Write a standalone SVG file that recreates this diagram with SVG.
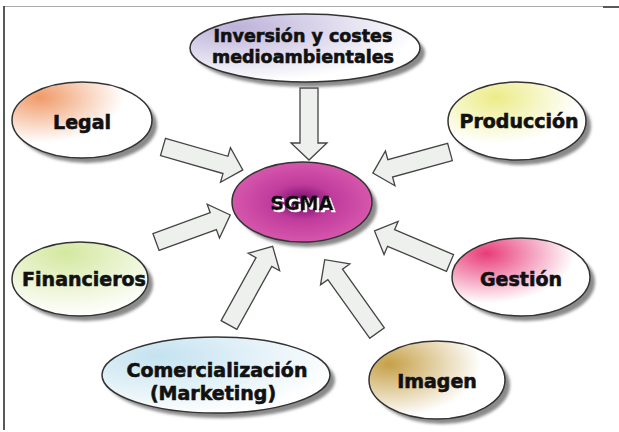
<svg xmlns="http://www.w3.org/2000/svg" width="619" height="432" viewBox="0 0 619 432">
<style>
.node{stroke:#333;stroke-width:1.5}
.sh{fill:#8a8a8a;filter:url(#blur)}
.lbl{font-family:"DejaVu Sans","Liberation Sans",sans-serif;font-weight:bold;font-size:19px;fill:#111;stroke:#111;stroke-width:0.6;text-anchor:middle}
.arr{fill:#eef0ee;stroke:#444;stroke-width:1.3;stroke-linejoin:miter}
</style>
<defs>
<filter id="blur" x="-20%" y="-20%" width="140%" height="140%"><feGaussianBlur stdDeviation="1.5"/></filter>
<filter id="wsh" x="-10%" y="-30%" width="130%" height="160%">
<feOffset in="SourceAlpha" dx="2" dy="2" result="o"/>
<feFlood flood-color="#ffffff"/>
<feComposite in2="o" operator="in" result="w"/>
<feMerge><feMergeNode in="w"/><feMergeNode in="SourceGraphic"/></feMerge>
</filter>
<radialGradient id="gInv" cx="0.2" cy="0.2" r="0.8"><stop offset="0" stop-color="#bcb2da"/><stop offset="1" stop-color="#ffffff"/></radialGradient>
<radialGradient id="gLeg" cx="0.2" cy="0.2" r="0.8"><stop offset="0" stop-color="#f09a68"/><stop offset="0.75" stop-color="#ffffff"/></radialGradient>
<radialGradient id="gPro" cx="0.35" cy="0.2" r="0.7"><stop offset="0" stop-color="#ecec88"/><stop offset="0.85" stop-color="#ffffff"/></radialGradient>
<radialGradient id="gFin" cx="0.4" cy="0.15" r="0.85"><stop offset="0" stop-color="#d4e8a0"/><stop offset="1" stop-color="#ffffff"/></radialGradient>
<radialGradient id="gCom" cx="0.25" cy="0.25" r="0.8"><stop offset="0" stop-color="#c4e2f0"/><stop offset="1" stop-color="#ffffff"/></radialGradient>
<radialGradient id="gGes" cx="0.25" cy="0.2" r="0.75"><stop offset="0" stop-color="#e83c78"/><stop offset="0.85" stop-color="#ffffff"/></radialGradient>
<radialGradient id="gIma" cx="0.15" cy="0.3" r="0.75"><stop offset="0" stop-color="#c6a048"/><stop offset="0.9" stop-color="#ffffff"/></radialGradient>
<radialGradient id="gSg" cx="0.5" cy="0.5" r="0.5"><stop offset="0" stop-color="#6a0868"/><stop offset="0.45" stop-color="#c03c9c"/><stop offset="1" stop-color="#d656ac"/></radialGradient>
</defs>
<rect width="619" height="432" fill="#ffffff"/>
<g id="frame">
<line x1="4" y1="6.5" x2="603" y2="6.5" stroke="#aaaaaa" stroke-width="1"/>
<line x1="603" y1="7" x2="619" y2="7" stroke="#222" stroke-width="1.5"/>
<line x1="4" y1="6" x2="4" y2="430" stroke="#222" stroke-width="1.5"/>
</g>
<g id="connectors">
<path class="arr" transform="translate(163,147) rotate(16)" d="M0,-9 L65,-9 L65,-18 L83,0 L65,18 L65,9 L0,9 Z"/>
<path class="arr" transform="translate(156,242) rotate(-20)" d="M0,-9 L61,-9 L61,-18 L79,0 L61,18 L61,9 L0,9 Z"/>
<path class="arr" transform="translate(309,88) rotate(90)" d="M0,-9 L55,-9 L55,-18 L72,0 L55,18 L55,9 L0,9 Z"/>
<path class="arr" transform="translate(450,152) rotate(164.7)" d="M0,-9 L62,-9 L62,-18 L80,0 L62,18 L62,9 L0,9 Z"/>
<path class="arr" transform="translate(450,263) rotate(203)" d="M0,-9 L64,-9 L64,-18 L82,0 L64,18 L64,9 L0,9 Z"/>
<path class="arr" transform="translate(377,333) rotate(234.5)" d="M0,-9 L72,-9 L72,-18 L90,0 L72,18 L72,9 L0,9 Z"/>
<path class="arr" transform="translate(229,325) rotate(-61)" d="M0,-9 L72,-9 L72,-18 L90,0 L72,18 L72,9 L0,9 Z"/>
</g>
<g id="inversion">
<ellipse class="sh" cx="310" cy="53" rx="115" ry="34"/>
<ellipse class="node" cx="305" cy="48" rx="115" ry="34" fill="url(#gInv)"/>
<text class="lbl" style="font-size:17.5px" x="303" y="42">Inversión y costes</text>
<text class="lbl" style="font-size:17.5px" x="303" y="63">medioambientales</text>
</g>
<g id="legal">
<ellipse class="sh" cx="87" cy="125" rx="70" ry="38"/>
<ellipse class="node" cx="82" cy="120" rx="70" ry="38" fill="url(#gLeg)"/>
<text class="lbl" x="82" y="129">Legal</text>
</g>
<g id="produccion">
<ellipse class="sh" cx="522" cy="126" rx="69" ry="39"/>
<ellipse class="node" cx="517" cy="121" rx="69" ry="39" fill="url(#gPro)"/>
<text class="lbl" x="519" y="128">Producción</text>
</g>
<g id="financieros">
<ellipse class="sh" cx="85" cy="284" rx="68" ry="37"/>
<ellipse class="node" cx="80" cy="279" rx="68" ry="37" fill="url(#gFin)"/>
<text class="lbl" x="84" y="286">Financieros</text>
</g>
<g id="gestion">
<ellipse class="sh" cx="526" cy="282" rx="69" ry="39"/>
<ellipse class="node" cx="521" cy="277" rx="69" ry="39" fill="url(#gGes)"/>
<text class="lbl" x="521" y="286">Gestión</text>
</g>
<g id="comercializacion">
<ellipse class="sh" cx="221" cy="380" rx="114" ry="38"/>
<ellipse class="node" cx="216" cy="375" rx="114" ry="38" fill="url(#gCom)"/>
<text class="lbl" x="217" y="377">Comercialización</text>
<text class="lbl" x="213" y="400">(Marketing)</text>
</g>
<g id="imagen">
<ellipse class="sh" cx="442" cy="385" rx="68" ry="39"/>
<ellipse class="node" cx="437" cy="380" rx="68" ry="39" fill="url(#gIma)"/>
<text class="lbl" x="437" y="388">Imagen</text>
</g>
<g id="sgma">
<ellipse class="sh" cx="307" cy="207" rx="70" ry="40"/>
<ellipse class="node" cx="302" cy="202" rx="70" ry="40" fill="url(#gSg)"/>
<text class="lbl" x="302" y="210" filter="url(#wsh)">SGMA</text>
</g>
</svg>
